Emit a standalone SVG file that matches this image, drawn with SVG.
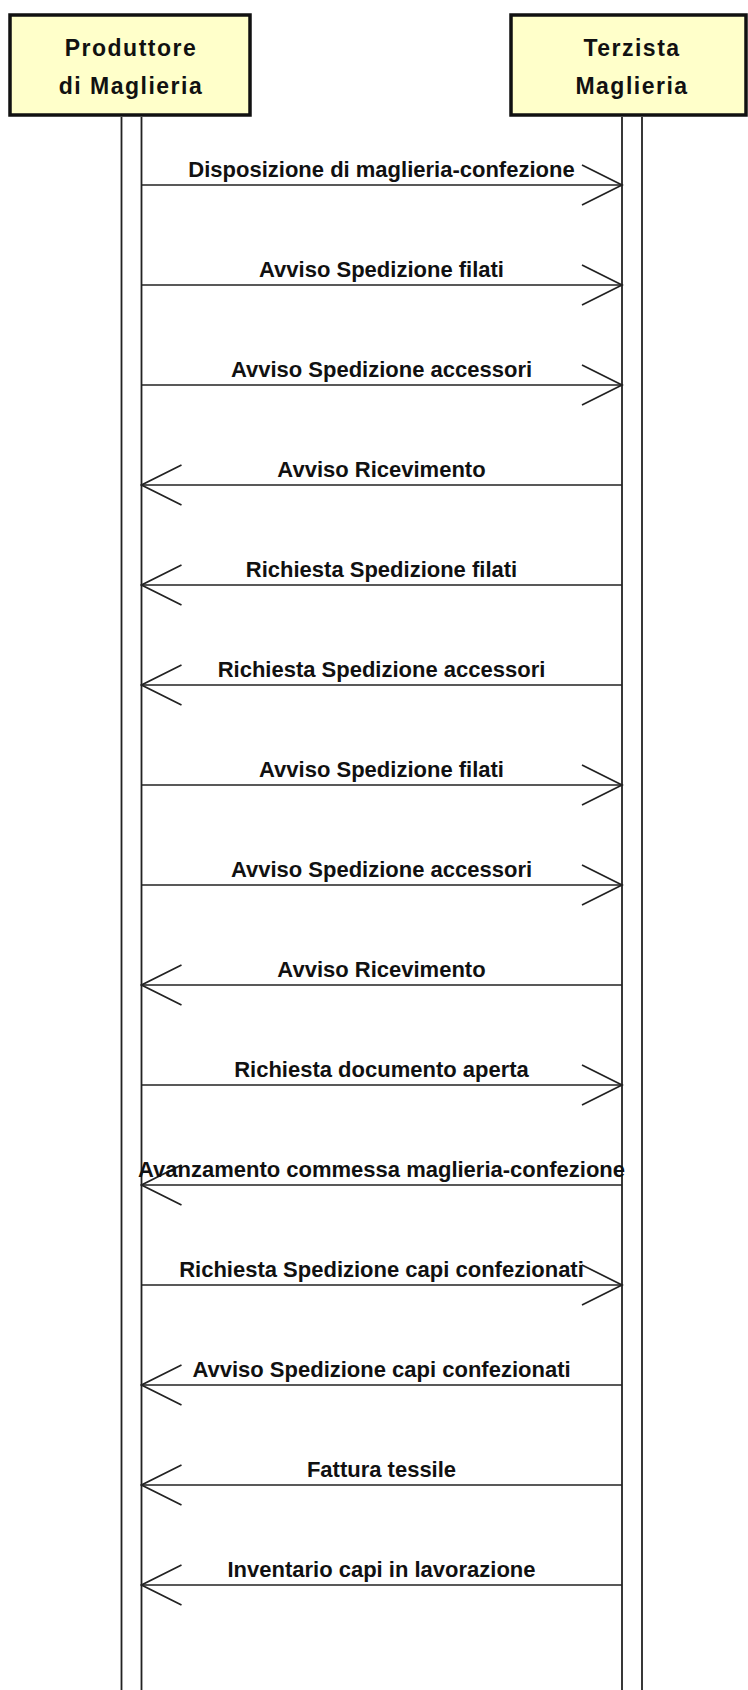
<svg xmlns="http://www.w3.org/2000/svg" width="748" height="1690" viewBox="0 0 748 1690">
<style>
.box{fill:#FFFFCA;stroke:#111;stroke-width:3.5}
.hdr{font-family:"Liberation Sans",Arial,sans-serif;font-weight:bold;font-size:23px;letter-spacing:1.5px;fill:#111;text-anchor:middle}
.life{stroke:#222;stroke-width:1.8;fill:none}
.msg{stroke:#222;stroke-width:1.7;fill:none;marker-end:url(#open)}
.lbl{font-family:"Liberation Sans",Arial,sans-serif;font-weight:bold;font-size:22px;fill:#111;text-anchor:middle}
</style>
<defs>
<marker id="open" markerUnits="userSpaceOnUse" viewBox="-42 -22 44 44" refX="0" refY="0" markerWidth="44" markerHeight="44" orient="auto">
<path d="M -40 -20 L 0 0 L -40 20" fill="none" stroke="#222" stroke-width="1.7"/>
</marker>
</defs>
<rect width="748" height="1690" fill="#fff"/>
<g id="produttore">
<rect class="box" x="10" y="15" width="240" height="100"/>
<text class="hdr" x="131" y="56">Produttore</text>
<text class="hdr" x="131" y="94">di Maglieria</text>
<line class="life" x1="121.5" y1="117" x2="121.5" y2="1690"/>
<line class="life" x1="141.5" y1="117" x2="141.5" y2="1690"/>
</g>
<g id="terzista">
<rect class="box" x="511" y="15" width="235" height="100"/>
<text class="hdr" x="632" y="56">Terzista</text>
<text class="hdr" x="632" y="94">Maglieria</text>
<line class="life" x1="622" y1="117" x2="622" y2="1690"/>
<line class="life" x1="642" y1="117" x2="642" y2="1690"/>
</g>
<g id="messages">
<line class="msg" x1="141.5" y1="185" x2="622" y2="185"/>
<text class="lbl" x="381.5" y="177">Disposizione di maglieria-confezione</text>
<line class="msg" x1="141.5" y1="285" x2="622" y2="285"/>
<text class="lbl" x="381.5" y="277">Avviso Spedizione filati</text>
<line class="msg" x1="141.5" y1="385" x2="622" y2="385"/>
<text class="lbl" x="381.5" y="377">Avviso Spedizione accessori</text>
<line class="msg" x1="622" y1="485" x2="141.5" y2="485"/>
<text class="lbl" x="381.5" y="477">Avviso Ricevimento</text>
<line class="msg" x1="622" y1="585" x2="141.5" y2="585"/>
<text class="lbl" x="381.5" y="577">Richiesta Spedizione filati</text>
<line class="msg" x1="622" y1="685" x2="141.5" y2="685"/>
<text class="lbl" x="381.5" y="677">Richiesta Spedizione accessori</text>
<line class="msg" x1="141.5" y1="785" x2="622" y2="785"/>
<text class="lbl" x="381.5" y="777">Avviso Spedizione filati</text>
<line class="msg" x1="141.5" y1="885" x2="622" y2="885"/>
<text class="lbl" x="381.5" y="877">Avviso Spedizione accessori</text>
<line class="msg" x1="622" y1="985" x2="141.5" y2="985"/>
<text class="lbl" x="381.5" y="977">Avviso Ricevimento</text>
<line class="msg" x1="141.5" y1="1085" x2="622" y2="1085"/>
<text class="lbl" x="381.5" y="1077">Richiesta documento aperta</text>
<line class="msg" x1="622" y1="1185" x2="141.5" y2="1185"/>
<text class="lbl" x="381.5" y="1177">Avanzamento commessa maglieria-confezione</text>
<line class="msg" x1="141.5" y1="1285" x2="622" y2="1285"/>
<text class="lbl" x="381.5" y="1277">Richiesta Spedizione capi confezionati</text>
<line class="msg" x1="622" y1="1385" x2="141.5" y2="1385"/>
<text class="lbl" x="381.5" y="1377">Avviso Spedizione capi confezionati</text>
<line class="msg" x1="622" y1="1485" x2="141.5" y2="1485"/>
<text class="lbl" x="381.5" y="1477">Fattura tessile</text>
<line class="msg" x1="622" y1="1585" x2="141.5" y2="1585"/>
<text class="lbl" x="381.5" y="1577">Inventario capi in lavorazione</text>
</g>
</svg>
